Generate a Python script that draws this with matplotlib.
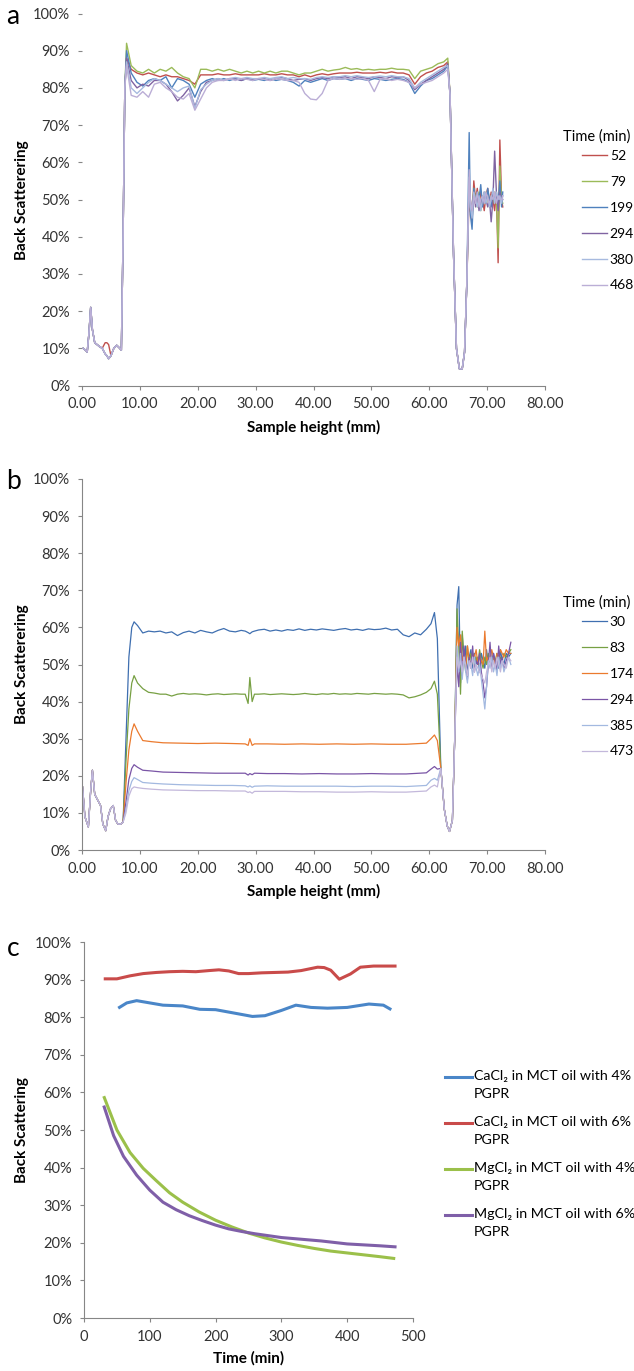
import matplotlib
matplotlib.use("Agg")
import matplotlib.pyplot as plt
from matplotlib.lines import Line2D
from matplotlib.ticker import FuncFormatter

plt.rcParams['font.family'] = ['Lato', 'DejaVu Sans']

# ---------------- panel a : back scattering profiles ----------------
A_TIMES = ["52", "79", "199", "294", "380", "468"]
A_COLORS = ["#C0504D", "#9BBB59", "#4F81BD", "#8064A2", "#A7BADF", "#BBAED6"]

A_X_START = [0.2, 0.6, 0.9, 1.2, 1.5, 1.8, 2.2, 2.6, 3.0, 3.5, 4.0, 4.3, 4.6, 5.0, 5.5, 6.0, 6.4, 6.8, 7.1, 7.4]
A_START = [10, 9.5, 9, 14, 21, 15, 11.5, 11, 10.5, 10, 8.5, 8, 7.2, 8, 10, 10.8, 10.2, 9.5, 40, 80]
A_START_52 = [10, 9.5, 9, 14, 21, 15, 11.5, 11, 10.5, 10, 11.5, 11.5, 11, 8, 10, 10.8, 10.2, 9.5, 40, 80]

A_X_PLAT = [7.7, 8.5, 9.5, 10.5, 11.5, 12.5, 13.5, 14.5, 15.5, 16.5,
            17.5, 18.5, 19.5, 20.5, 21.5, 22.5, 23.5, 24.5, 25.5, 26.5,
            27.5, 28.5, 29.5, 30.5, 31.5, 32.5, 33.5, 34.5, 35.5, 36.5,
            37.5, 38.5, 39.5, 40.5, 41.5, 42.5, 43.5, 44.5, 45.5, 46.5,
            47.5, 48.5, 49.5, 50.5, 51.5, 52.5, 53.5, 54.5, 55.5, 56.5,
            57.5, 58.5, 59.5, 60.5, 61.5, 62.5, 63.2]
A_PLAT_52 = [88, 85, 84, 83.5, 84, 83.5, 83, 83.5, 83, 83,
             82.5, 82, 81, 83.5, 83.5, 83.5, 83.8, 83.5, 83.5, 83.8,
             83.5, 83.5, 83.5, 83.5, 83.8, 83.5, 83.5, 83.8, 83.5, 83.5,
             83, 83.5, 83, 83.5, 83.8, 83.5, 83.8, 84, 84, 84,
             84.2, 84, 84, 84, 84.2, 84, 84.3, 84, 84, 83.5,
             81, 83, 84, 84.5, 85.5, 86, 87]
A_PLAT_79 = [92, 86, 84.5, 84, 85, 84, 85, 84.5, 85.5, 84,
             83, 82.5, 80, 85, 85, 84.5, 85, 84.5, 85, 84.5,
             84, 84.5, 84, 84.5, 84, 84.5, 84, 84.5, 84.5, 84,
             83.5, 84, 84, 84.5, 85, 84.5, 84.8, 85, 85.5, 85,
             85.2, 84.8, 85, 84.8, 85, 85, 85.3, 85, 85, 84.8,
             82.5, 84.5, 85, 85.5, 86.5, 87, 88]
A_PLAT_199 = [90, 84, 81.5, 80.5, 82, 82.5, 82, 83, 80, 82.5,
              82, 81, 77.5, 81, 82, 82.5, 82, 82.5, 82, 82.5,
              82, 82.5, 82, 82.3, 82, 82.5, 82, 82.3, 82, 81.5,
              80.5, 82, 81.5, 82, 82.5, 82, 82.5, 82.3, 82.5, 82,
              82.5, 82.3, 82, 82.5, 82.3, 82, 82.3, 82.5, 82.3, 81.5,
              78.5, 80.5, 82, 82.5, 83.5, 84.5, 86]
A_PLAT_294 = [88, 82, 80, 81, 80.5, 82, 82, 81, 79, 76.5,
              78, 80, 75, 79, 81.5, 82, 82.5, 82, 82.5, 82.5,
              82, 82.5, 82.3, 82.5, 82.5, 82, 82.5, 82.8, 82.5, 82,
              82.3, 82.5, 82, 82.5, 82.8, 82.5, 83, 82.8, 83, 82.5,
              83, 82.8, 82.5, 83, 82.8, 82.5, 83, 82.8, 83, 82,
              79.5, 81, 82, 83, 84, 85, 86.5]
A_PLAT_380 = [87, 80, 78.5, 80, 81.5, 82.5, 82, 81, 80, 79,
              80, 80.5, 74.5, 79.5, 81, 82, 82.5, 82, 82.5, 82.8,
              82.5, 82.8, 82.5, 82.5, 82.8, 82.5, 82.8, 83, 82.5, 82.8,
              82.5, 82.5, 82.3, 82.8, 83, 82.8, 83, 83, 83.3, 83,
              83.3, 83, 82.8, 83, 83.2, 83, 83.3, 83, 83, 82.5,
              80, 81.5, 82.5, 83.5, 84.5, 85.5, 86]
A_PLAT_468 = [86, 78, 77.5, 79, 77.5, 81, 81.5, 80, 79, 77.5,
              77, 78.5, 74, 77, 80, 81.5, 82, 82, 82.5, 82,
              82.5, 82.3, 82, 82.5, 82.3, 82, 82.5, 82.3, 82, 82,
              81.5, 78.5, 77, 76.8, 78.5, 82, 82.5, 82.3, 82.5, 82.5,
              82.3, 82.5, 82, 79, 82.3, 82.5, 82, 82.3, 82, 81.5,
              80, 81, 81.5, 82, 83, 84, 85]

A_X_DROP = [63.6, 64.2, 64.7, 65.2, 65.7, 66.1, 66.5]
A_DROP = [78, 35, 10, 4.5, 4.5, 9, 28]

A_X_TAIL = [66.9, 67.1, 67.4, 67.7, 68.0, 68.3, 68.6, 68.9, 69.2, 69.5, 69.8,
            70.1, 70.4, 70.7, 71.0, 71.3, 71.6, 71.9, 72.2, 72.5, 72.7]
A_TAIL_52 = [52, 47, 44, 55, 50, 53, 48, 52, 50, 47, 51, 53, 49, 52, 50, 47, 52, 33, 66, 50, 48]
A_TAIL_79 = [55, 50, 46, 53, 50, 48, 52, 47, 51, 49, 52, 50, 48, 51, 49, 52, 50, 37, 59, 50, 49]
A_TAIL_199 = [68, 46, 42, 53, 49, 52, 50, 54, 48, 51, 49, 53, 50, 48, 52, 50, 51, 49, 55, 48, 52]
A_TAIL_294 = [55, 50, 46, 52, 48, 51, 47, 50, 49, 52, 50, 48, 50, 44, 50, 63, 52, 47, 52, 50, 50]
A_TAIL_380 = [56, 48, 45, 52, 50, 48, 51, 47, 50, 52, 49, 51, 48, 50, 53, 49, 52, 50, 51, 49, 51]
A_TAIL_468 = [58, 50, 47, 51, 49, 52, 48, 50, 51, 49, 52, 50, 49, 51, 50, 52, 49, 51, 50, 50, 51]

# ---------------- panel b ----------------
B_TIMES = ["30", "83", "174", "294", "385", "473"]
B_COLORS = ["#3F6FB0", "#77A043", "#EB7A2E", "#7A55A6", "#A3B9E0", "#C3B8DB"]

B_X_START = [0.1, 0.5, 1.1, 1.5, 1.8, 2.2, 2.7, 3.2, 3.6, 4.1, 4.5, 4.9, 5.4, 5.8, 6.2, 6.7, 7.1]
B_START = [17, 9, 6.2, 16, 21.5, 15, 13.5, 12, 7, 5.2, 9, 11, 12, 8, 7, 7, 7.5]

B_X_RISE = [7.6, 8.1, 8.6, 9.0, 9.6]
B_RISE_30 = [30, 52, 60, 61.5, 60.5]
B_RISE_83 = [24, 38, 45, 47, 45]
B_RISE_174 = [18, 27, 32, 34, 32]
B_RISE_294 = [13, 19, 22, 23, 22.3]
B_RISE_385 = [11, 16, 18.5, 19.5, 19]
B_RISE_473 = [10, 14.5, 16.5, 17, 16.8]

B_X_MID = [10.5, 11.5, 12.5, 13.5, 14.5, 15.5, 16.5, 17.5, 18.5, 19.5,
           20.5, 21.5, 22.5, 23.5, 24.5, 25.5, 26.5, 27.5,
           28.2, 28.7, 29.0, 29.4, 29.8,
           30.5, 31.5, 32.5, 33.5, 34.5, 35.5, 36.5, 37.5, 38.5, 39.5,
           40.5, 41.5, 42.5, 43.5, 44.5, 45.5, 46.5, 47.5, 48.5, 49.5,
           50.5, 51.5, 52.5, 53.5, 54.5, 55.5, 56.5, 57.5, 58.5, 59.5]
B_MID_30 = [58.5, 59, 58.8, 59, 58.5, 58.8, 57.8, 58.6, 59, 58.5,
            59.2, 58.8, 58.5, 59.2, 59.7, 59, 58.8, 59.2,
            59, 58.6, 58.3, 58.8, 59,
            59.3, 59.5, 59, 59.3, 59, 59.4, 59.2, 59.6, 59.2, 59.5,
            59.3, 59.6, 59.4, 59.2, 59.5, 59.7, 59.3, 59.5, 59.2, 59.6,
            59.4, 59.5, 59.8, 59.3, 59.5, 58, 57.5, 58.5, 58, 59.5]
B_MID_83 = [43.5, 42.5, 42.3, 42, 42, 41.5, 42, 42.2, 42, 42.1,
            42, 41.8, 42, 42.1, 41.9, 42, 42.1, 42,
            42, 39.5, 46.5, 40, 42,
            42, 42.1, 41.9, 42, 42.1, 42, 41.9, 42, 42.2, 42,
            41.9, 42.1, 42, 42.2, 42, 42.1, 42, 42.2, 42.1, 42,
            42.2, 42.1, 42, 42.1, 42, 41.8, 41, 41.3, 41.8, 42.5]

B_X_MID_SMOOTH = [10.5, 12, 14, 17, 20, 23, 26, 28.2, 28.7, 29.0, 29.4,
                  29.8, 32, 35, 38, 41, 44, 47, 50, 53, 56, 59.5]
B_MID_174 = [29.5, 29.2, 28.9, 28.8, 28.7, 28.8, 28.7, 28.6, 28.2, 30, 28.2,
             28.6, 28.6, 28.5, 28.6, 28.5, 28.6, 28.5, 28.6, 28.5, 28.5, 28.8]
B_MID_294 = [21.5, 21.3, 21, 20.9, 20.8, 20.7, 20.7, 20.7, 20.2, 20.6, 20.3,
             20.7, 20.6, 20.6, 20.5, 20.6, 20.5, 20.5, 20.6, 20.5, 20.5, 20.8]
B_MID_385 = [18.2, 18, 17.8, 17.6, 17.5, 17.4, 17.4, 17.3, 17.0, 17.3, 16.9,
             17.2, 17.3, 17.2, 17.2, 17.2, 17.2, 17.1, 17.2, 17.2, 17.1, 17.4]
B_MID_473 = [16.6, 16.4, 16.2, 16.1, 16, 16, 15.9, 15.9, 15.5, 15.7, 15.3,
             15.8, 15.8, 15.8, 15.7, 15.7, 15.6, 15.6, 15.7, 15.6, 15.6, 15.9]

B_X_PEAK = [60.3, 60.9, 61.4]
B_PEAK_30 = [61, 64, 57]
B_PEAK_83 = [43.5, 45.5, 42]
B_PEAK_174 = [30, 31, 29.5]
B_PEAK_294 = [21.8, 22.5, 21.8]
B_PEAK_385 = [18.8, 19.3, 18.8]
B_PEAK_473 = [17, 17.5, 17]

B_X_DROP = [62.0, 62.6, 63.1, 63.5, 64.0, 64.4]
B_DROP = [22, 11, 6.5, 5, 8, 30]

B_X_TAIL = [64.8, 65.1, 65.4, 65.7, 66.0, 66.3, 66.6, 66.9, 67.2, 67.5, 67.8,
            68.1, 68.4, 68.7, 69.0, 69.3, 69.6, 69.9, 70.2, 70.5, 70.8,
            71.1, 71.4, 71.7, 72.0, 72.3, 72.6, 72.9, 73.3, 73.7, 74.1]
B_TAIL_30 = [66, 71, 45, 58, 50, 55, 47, 52, 54, 49, 53, 50, 52, 48, 53, 51,
             49, 54, 50, 52, 51, 53, 50, 52, 49, 54, 51, 50, 53, 52, 53]
B_TAIL_83 = [65, 55, 42, 59, 52, 48, 55, 50, 53, 51, 49, 52, 50, 54, 51, 49,
             52, 50, 53, 51, 50, 52, 51, 53, 50, 52, 51, 53, 52, 53, 54]
B_TAIL_174 = [60, 55, 58, 51, 53, 49, 55, 51, 50, 53, 52, 54, 50, 52, 51, 50,
              59, 51, 52, 51, 54, 52, 50, 53, 52, 54, 53, 52, 54, 53, 53]
B_TAIL_294 = [50, 44, 56, 47, 55, 50, 46, 52, 49, 55, 48, 51, 50, 53, 48, 45,
              41, 44, 50, 56, 49, 53, 51, 48, 55, 50, 52, 49, 51, 53, 56]
B_TAIL_385 = [55, 48, 53, 46, 52, 48, 45, 51, 50, 47, 52, 49, 47, 50, 46, 42,
              38, 44, 51, 49, 52, 48, 50, 47, 52, 49, 51, 48, 50, 52, 50]
B_TAIL_473 = [52, 49, 51, 48, 52, 50, 47, 51, 49, 52, 48, 50, 49, 48, 47, 46,
              45, 48, 50, 52, 48, 51, 49, 52, 50, 48, 51, 50, 49, 52, 51]

# ---------------- panel c : back scattering vs time ----------------
C_LABELS = ["CaCl\u2082 in MCT oil with 4%\nPGPR", "CaCl\u2082 in MCT oil with 6%\nPGPR",
            "MgCl\u2082 in MCT oil with 4%\nPGPR", "MgCl\u2082 in MCT oil with 6%\nPGPR"]
C_COLORS = ["#4A86C8", "#C94B4A", "#9BC04A", "#7F5FA8"]

C_T_CA4 = [52, 65, 80, 100, 120, 150, 176, 200, 225, 256, 275, 300, 322, 345, 370, 400, 433, 455, 467]
C_CA4 = [82.4, 83.8, 84.4, 83.8, 83.2, 83, 82.1, 82, 81.2, 80.2, 80.4, 81.8, 83.2, 82.6, 82.4, 82.6, 83.5, 83.2, 82]
C_T_CA6 = [30, 50, 70, 90, 110, 130, 150, 170, 190, 205, 220, 235, 250, 270, 290, 310, 330,
           355, 365, 375, 388, 405, 420, 440, 460, 475]
C_CA6 = [90.2, 90.2, 91, 91.6, 91.9, 92.1, 92.2, 92.1, 92.4, 92.6, 92.3, 91.6, 91.6, 91.8, 91.9, 92, 92.4,
         93.3, 93.2, 92.5, 90.1, 91.5, 93.3, 93.6, 93.6, 93.6]
C_T_MG4 = [30, 50, 70, 90, 110, 130, 150, 175, 200, 225, 250, 275, 300, 325, 350, 375, 400, 425, 450, 473]
C_MG4 = [59, 50, 44, 39.8, 36.5, 33.3, 30.8, 28.2, 26, 24.2, 22.6, 21.3, 20.2, 19.3, 18.5, 17.8, 17.3, 16.8, 16.3, 15.8]
C_T_MG6 = [30, 45, 60, 80, 100, 120, 140, 160, 180, 200, 220, 240, 260, 280, 300, 320, 340, 360, 380, 400, 430, 450, 475]
C_MG6 = [56.5, 48.5, 43, 38, 34, 30.8, 28.8, 27.2, 25.9, 24.7, 23.7, 23, 22.4, 21.9, 21.4, 21.1, 20.8, 20.5,
         20.1, 19.7, 19.4, 19.2, 18.9]

GREY = "#868686"
TXT = "#333333"
W, H = 634, 1371
TICK_FS = 10.5
LABEL_FS = 11
LEG_FS = 10


def style(ax, left_spine=True):
    ax.spines['top'].set_visible(False)
    ax.spines['right'].set_visible(False)
    ax.spines['left'].set_visible(left_spine)
    for s in ['left', 'bottom']:
        ax.spines[s].set_color(GREY)
        ax.spines[s].set_linewidth(0.8)
    ax.tick_params(direction='out', length=3, width=0.8, color=GREY,
                   labelsize=TICK_FS, labelcolor=TXT)
    ax.tick_params(axis='y', pad=5.5)
    ax.tick_params(axis='x', pad=5.5)
    ax.set_ylim(0, 100)
    ax.set_yticks(range(0, 101, 10))
    ax.yaxis.set_major_formatter(FuncFormatter(lambda v, p: f"{v:.0f}%"))


fig = plt.figure(figsize=(W / 100, H / 100), dpi=100)

# panel a
ax_a = fig.add_axes([82 / W, 1 - 385.5 / H, 463 / W, 372 / H])
a_plats = [A_PLAT_52, A_PLAT_79, A_PLAT_199, A_PLAT_294, A_PLAT_380, A_PLAT_468]
a_tails = [A_TAIL_52, A_TAIL_79, A_TAIL_199, A_TAIL_294, A_TAIL_380, A_TAIL_468]
a_starts = [A_START_52, A_START, A_START, A_START, A_START, A_START]
for lab, col, st, pl, tl in zip(A_TIMES, A_COLORS, a_starts, a_plats, a_tails):
    ax_a.plot(A_X_START + A_X_PLAT + A_X_DROP + A_X_TAIL, st + pl + A_DROP + tl,
              color=col, lw=1.0, label=lab)

# panel b
ax_b = fig.add_axes([82 / W, 1 - 850 / H, 463 / W, 371 / H])
b_rises = [B_RISE_30, B_RISE_83, B_RISE_174, B_RISE_294, B_RISE_385, B_RISE_473]
b_mids = [B_MID_30, B_MID_83, B_MID_174, B_MID_294, B_MID_385, B_MID_473]
b_mid_x = [B_X_MID, B_X_MID, B_X_MID_SMOOTH, B_X_MID_SMOOTH, B_X_MID_SMOOTH, B_X_MID_SMOOTH]
b_peaks = [B_PEAK_30, B_PEAK_83, B_PEAK_174, B_PEAK_294, B_PEAK_385, B_PEAK_473]
b_tails = [B_TAIL_30, B_TAIL_83, B_TAIL_174, B_TAIL_294, B_TAIL_385, B_TAIL_473]
for lab, col, ri, mx, mi, pk, tl in zip(B_TIMES, B_COLORS, b_rises, b_mid_x, b_mids, b_peaks, b_tails):
    xs = B_X_START + B_X_RISE + mx + B_X_PEAK + B_X_DROP + B_X_TAIL
    ys = B_START + ri + mi + pk + B_DROP + tl
    ax_b.plot(xs, ys, color=col, lw=0.9, label=lab)

for ax, show_left in [(ax_a, False), (ax_b, True)]:
    style(ax, show_left)
    ax.set_xlim(0, 80)
    ax.set_xticks(range(0, 81, 10))
    ax.xaxis.set_major_formatter(FuncFormatter(lambda v, p: f"{v:.2f}"))
    ax.set_xlabel("Sample height (mm)", fontsize=LABEL_FS, fontweight='bold', labelpad=6)
    ax.set_ylabel("Back Scatterering", fontsize=LABEL_FS, fontweight='bold')
ax_a.yaxis.set_label_coords(29 / W, 1 - 200 / H, transform=fig.transFigure)
ax_b.yaxis.set_label_coords(29 / W, 1 - 664 / H, transform=fig.transFigure)

# legends a, b
fig.text(563 / W, 1 - 137 / H, "Time (min)", fontsize=10.5, va='center', color='black')
ax_a.legend(loc='upper left', bbox_to_anchor=(582 / W, 1 - 150 / H), bbox_transform=fig.transFigure,
            frameon=False, borderpad=0, borderaxespad=0, handlelength=1.8, handletextpad=0.2,
            labelspacing=1.0, fontsize=LEG_FS)
fig.text(563 / W, 1 - 603 / H, "Time (min)", fontsize=10.5, va='center', color='black')
ax_b.legend(loc='upper left', bbox_to_anchor=(582 / W, 1 - 616 / H), bbox_transform=fig.transFigure,
            frameon=False, borderpad=0, borderaxespad=0, handlelength=1.8, handletextpad=0.2,
            labelspacing=1.0, fontsize=LEG_FS)

# panel c
ax_c = fig.add_axes([84 / W, 1 - 1318 / H, 329 / W, 376 / H])
c_series = [(C_T_CA4, C_CA4), (C_T_CA6, C_CA6), (C_T_MG4, C_MG4), (C_T_MG6, C_MG6)]
for (t, v), col in zip(c_series, C_COLORS):
    ax_c.plot(t, v, color=col, lw=2.2, solid_capstyle='butt')
style(ax_c, True)
ax_c.set_xlim(0, 500)
ax_c.set_xticks(range(0, 501, 100))
ax_c.set_xlabel("Time (min)", fontsize=LABEL_FS, fontweight='bold', labelpad=5)
ax_c.set_ylabel("Back Scattering", fontsize=LABEL_FS, fontweight='bold')
ax_c.yaxis.set_label_coords(29 / W, 1 - 1130 / H, transform=fig.transFigure)

for i, (lab, col) in enumerate(zip(C_LABELS, C_COLORS)):
    yc = 1077 + 46 * i
    fig.add_artist(Line2D([445 / W, 472 / W], [1 - yc / H, 1 - yc / H], color=col, lw=2.2))
    fig.text(474 / W, 1 - (yc - 7) / H, lab, fontsize=10.3, va='top', ha='left',
             linespacing=1.6, color='black')

# panel letters
fig.text(13 / W, 1 - 17 / H, "a", fontsize=19, ha='center', va='center')
fig.text(13 / W, 1 - 482 / H, "b", fontsize=19, ha='center', va='center')
fig.text(13 / W, 1 - 948 / H, "c", fontsize=19, ha='center', va='center')

fig.savefig("out.png", dpi=100)
